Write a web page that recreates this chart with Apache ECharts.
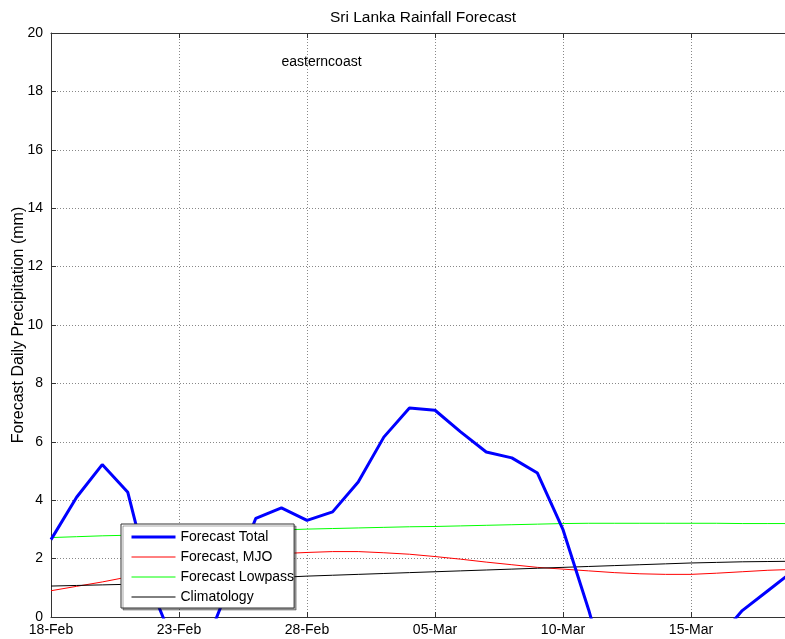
<!DOCTYPE html>
<html>
<head>
<meta charset="utf-8">
<script src="https://cdn.jsdelivr.net/npm/echarts@6/dist/echarts.min.js"></script>
<style>
html,body{margin:0;padding:0;background:#fff;}
#chart{width:785px;height:639px;}
</style>
</head>
<body>
<div id="chart"></div>
<script>
// Day offsets from 18-Feb
const days = [0,1,2,3,4,5,6,7,8,9,10,11,12,13,14,15,16,17,18,19,20,21,22,23,24,25,26,27,28,29];
const tickLabels = ['18-Feb','23-Feb','28-Feb','05-Mar','10-Mar','15-Mar'];
const forecastTotal = [2.65,4.1,5.22,4.27,0.8,-1.34,-1.05,1.16,3.38,3.74,3.31,3.6,4.62,6.16,7.16,7.08,6.34,5.65,5.45,4.93,2.99,0.25,-2.8,-3.2,-2.8,-1.9,-0.8,0.22,0.9,1.58];
const forecastMJO = [0.9,1.05,1.2,1.37,1.55,1.72,1.87,2.0,2.1,2.17,2.21,2.24,2.24,2.2,2.15,2.07,1.98,1.88,1.79,1.7,1.64,1.58,1.52,1.48,1.46,1.46,1.5,1.55,1.6,1.63];
const forecastLowpass = [2.72,2.75,2.78,2.8,2.83,2.86,2.89,2.92,2.95,2.98,3.01,3.03,3.05,3.07,3.09,3.1,3.12,3.14,3.16,3.18,3.2,3.21,3.21,3.21,3.21,3.21,3.21,3.2,3.2,3.2];
const climatology = [1.06,1.08,1.1,1.12,1.15,1.19,1.23,1.27,1.31,1.36,1.4,1.43,1.46,1.49,1.52,1.55,1.58,1.61,1.64,1.67,1.7,1.73,1.76,1.79,1.82,1.85,1.87,1.89,1.9,1.91];
const seriesNames = ['Forecast Total','Forecast, MJO','Forecast Lowpass','Climatology'];
const annotationText = 'easterncoast';
const annotationAt = [9, 19];
const titleText = 'Sri Lanka Rainfall Forecast';
const yAxisTitle = 'Forecast Daily Precipitation (mm)';

const FONT = '"Liberation Sans", Arial, Helvetica, sans-serif';
const pair = arr => days.map((d, i) => [d, arr[i]]);
const lineWidths = [3, 1, 1, 1];
const lineColors = ['#0000ff', '#ff0000', '#00ff00', '#000000'];

const chart = echarts.init(document.getElementById('chart'));
const gridLine = {show: true, lineStyle: {type: [1, 2], color: '#888', width: 1}};
const axisCol = '#333';

chart.setOption({
  animation: false,
  backgroundColor: '#fff',
  title: {
    text: titleText, left: 325, top: 5,
    textStyle: {fontFamily: FONT, fontSize: 15.5, fontWeight: 'normal', color: '#000'}
  },
  grid: {left: 51, right: 0, top: 33, bottom: 22, containLabel: false, outerBoundsMode: 'none'},
  xAxis: [{
    type: 'value', min: 0, max: 28.67, interval: 5, position: 'bottom',
    axisLine: {show: true, lineStyle: {color: axisCol, width: 1}},
    axisTick: {show: true, inside: true, length: 5, lineStyle: {color: axisCol}},
    axisLabel: {
      show: true, margin: 6, color: '#000', fontFamily: FONT, fontSize: 14,
      showMaxLabel: false,
      formatter: v => (Math.abs(v % 5) < 1e-9 ? (tickLabels[Math.round(v / 5)] || '') : '')
    },
    splitLine: gridLine
  }, {
    type: 'value', min: 0, max: 28.67, interval: 5, position: 'top',
    axisLine: {show: true, onZero: false, lineStyle: {color: axisCol, width: 1}},
    axisTick: {show: true, inside: true, length: 5, lineStyle: {color: axisCol}},
    axisLabel: {show: false},
    splitLine: {show: false}
  }],
  yAxis: {
    type: 'value', min: 0, max: 20, interval: 2,
    name: yAxisTitle, nameLocation: 'middle', nameGap: 24, nameRotate: 90,
    nameMoveOverlap: false,
    nameTextStyle: {fontFamily: FONT, fontSize: 16, color: '#000'},
    axisLine: {show: true, lineStyle: {color: axisCol, width: 1}},
    axisTick: {show: true, inside: true, length: 5, lineStyle: {color: axisCol}},
    axisLabel: {margin: 8, color: '#000', fontFamily: FONT, fontSize: 14},
    splitLine: gridLine
  },
  legend: {
    orient: 'vertical', left: 121, top: 524,
    padding: [6, 0, 4, 9], itemGap: 6, itemWidth: 44, itemHeight: 14,
    backgroundColor: '#fff', borderColor: '#333', borderWidth: 1,
    shadowColor: 'rgba(0,0,0,0.35)', shadowBlur: 0, shadowOffsetX: 2, shadowOffsetY: 2,
    itemStyle: {opacity: 0},
    textStyle: {fontFamily: FONT, fontSize: 14, color: '#000', padding: [0,0,0,0]},
    data: seriesNames.map((n, i) => ({name: n, lineStyle: {width: lineWidths[i]}})),
    z: 10
  },
  series: seriesNames.map((n, i) => ({
    name: n, type: 'line',
    data: pair([forecastTotal, forecastMJO, forecastLowpass, climatology][i]),
    symbol: 'none', clip: true,
    lineStyle: {color: lineColors[i], width: lineWidths[i]},
    itemStyle: {color: lineColors[i]},
    z: i === 0 ? 5 : 3
  }))
});

const p = chart.convertToPixel({xAxisIndex: 0, yAxisIndex: 0}, annotationAt);
chart.setOption({
  graphic: [{
    type: 'text', x: p[0], y: p[1], z: 20,
    style: {text: annotationText, fontFamily: FONT, fontSize: 14, fill: '#000',
            align: 'left', verticalAlign: 'middle'}
  }]
});
</script>
</body>
</html>
